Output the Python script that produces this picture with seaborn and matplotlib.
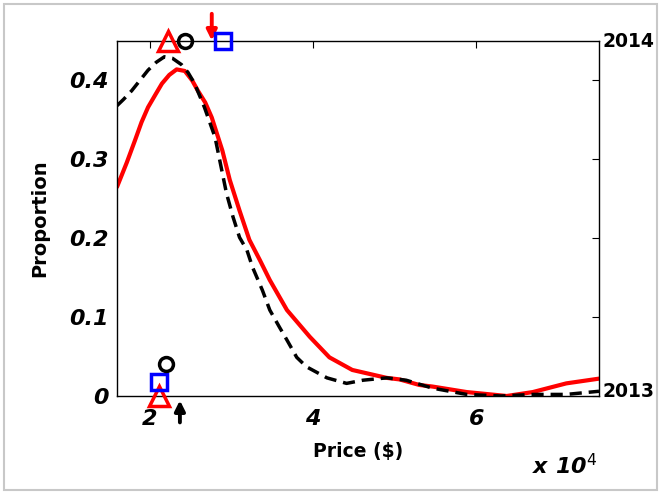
import matplotlib
matplotlib.use("Agg")
import matplotlib.pyplot as plt
import matplotlib.patches as mpatches
import numpy as np
import pandas as pd
import seaborn as sns

sns.set_style("white")
plt.rcParams["font.family"] = ["DejaVu Sans"]
plt.rcParams["text.color"] = "black"
plt.rcParams["axes.labelcolor"] = "black"
plt.rcParams["xtick.color"] = "black"
plt.rcParams["ytick.color"] = "black"

# Price grid (in units of 10^4 $) and proportions for each year
price_2014 = [1.6, 1.72, 1.82, 1.90, 1.98, 2.07, 2.15, 2.24, 2.33, 2.43, 2.52,
              2.59, 2.68, 2.76, 2.89, 2.98, 3.10, 3.22, 3.35, 3.47, 3.68, 3.96,
              4.20, 4.48, 4.90, 5.06, 5.30, 5.46, 5.88, 6.37, 6.69, 7.10, 7.50]
prop_2014 = [0.265, 0.296, 0.324, 0.347, 0.366, 0.382, 0.396, 0.407, 0.414,
             0.412, 0.400, 0.387, 0.372, 0.353, 0.311, 0.274, 0.235, 0.198,
             0.172, 0.147, 0.109, 0.075, 0.049, 0.033, 0.023, 0.021, 0.014,
             0.012, 0.005, 0.0, 0.005, 0.016, 0.022]

price_2013 = [1.6, 1.68, 1.78, 1.88, 1.98, 2.08, 2.18, 2.28, 2.39, 2.47, 2.55,
              2.67, 2.80, 2.94, 3.02, 3.10, 3.19, 3.26, 3.38, 3.47, 3.59, 3.68,
              3.80, 3.92, 4.17, 4.41, 4.61, 4.90, 5.14, 5.46, 5.88, 6.30, 6.69,
              7.10, 7.50]
prop_2013 = [0.368, 0.376, 0.387, 0.400, 0.413, 0.423, 0.430, 0.428, 0.420,
             0.410, 0.396, 0.366, 0.328, 0.257, 0.227, 0.201, 0.185, 0.163,
             0.134, 0.109, 0.087, 0.071, 0.049, 0.037, 0.023, 0.016, 0.020,
             0.023, 0.020, 0.010, 0.002, 0.0, 0.002, 0.002, 0.006]

# Summary markers (x positions in 10^4 $, y heights)
top_marks_x = {"triangle": 2.22, "circle": 2.43, "square": 2.90}
top_arrow_x = 2.76
bot_marks = {"triangle": (2.12, 0.0), "square": (2.12, 0.018), "circle": (2.20, 0.040)}
bot_arrow_x = 2.37

x_ticks = [2, 4, 6]
y_ticks = [0, 0.1, 0.2, 0.3, 0.4]
y_tick_labels = ["0", "0.1", "0.2", "0.3", "0.4"]

df = pd.concat([
    pd.DataFrame({"price": price_2014, "prop": prop_2014, "year": "2014"}),
    pd.DataFrame({"price": price_2013, "prop": prop_2013, "year": "2013"}),
])

fig = plt.figure(figsize=(6.61, 4.94), dpi=100)
ax = fig.add_axes([117 / 661, 98 / 494, 482 / 661, 355 / 494])

sns.lineplot(data=df[df.year == "2014"], x="price", y="prop", ax=ax,
             color="#ff0000", lw=3, estimator=None)
sns.lineplot(data=df[df.year == "2013"], x="price", y="prop", ax=ax,
             color="black", lw=2.5, ls=(0, (3.5, 2)), estimator=None)

ax.set_xlim(1.6, 7.5)
ax.set_ylim(0, 0.45)
ax.set_xticks(x_ticks)
ax.set_xticklabels([str(t) for t in x_ticks], fontsize=16, fontweight="bold",
                   style="italic")
ax.set_yticks(y_ticks)
ax.set_yticklabels(y_tick_labels, fontsize=16, fontweight="bold", style="italic")
ax.tick_params(axis="x", pad=9)
ax.tick_params(axis="y", pad=6)
ax.tick_params(direction="in", length=5, width=0.8, top=True, right=True,
               labeltop=False, labelright=False)
for s in ax.spines.values():
    s.set_linewidth(1.0)
    s.set_color("black")
ax.set_xlabel("Price ($)", fontsize=13.5, fontweight="bold", labelpad=10)
ax.set_ylabel("Proportion", fontsize=14, fontweight="bold", labelpad=14)

# Markers along the top edge (2014)
ax.plot(top_marks_x["triangle"], 0.45, marker="^", ms=14, mfc="none", mec="red",
        mew=2.5, clip_on=False, zorder=5)
ax.plot(top_marks_x["circle"], 0.45, marker="o", ms=10, mfc="none", mec="black",
        mew=2.5, clip_on=False, zorder=5)
ax.plot(top_marks_x["square"], 0.45, marker="s", ms=12, mfc="none", mec="blue",
        mew=2.5, clip_on=False, zorder=5)
ax.annotate("", xy=(top_arrow_x, 0.447), xytext=(top_arrow_x, 0.488),
            arrowprops=dict(arrowstyle="-|>", color="red", lw=2.8,
                            mutation_scale=15), annotation_clip=False)

# Markers along the bottom edge (2013)
ax.plot(*bot_marks["triangle"], marker="^", ms=14, mfc="none", mec="red",
        mew=2.5, clip_on=False, zorder=5)
ax.plot(*bot_marks["square"], marker="s", ms=12, mfc="none", mec="blue",
        mew=2.5, clip_on=False, zorder=5)
ax.plot(*bot_marks["circle"], marker="o", ms=10, mfc="none", mec="black",
        mew=2.5, clip_on=False, zorder=5)
ax.annotate("", xy=(bot_arrow_x, -0.002), xytext=(bot_arrow_x, -0.037),
            arrowprops=dict(arrowstyle="-|>", color="black", lw=2.8,
                            mutation_scale=15), annotation_clip=False)

# Year labels at the right edge
ax.text(1.008, 1.0, "2014", transform=ax.transAxes, fontsize=13.5,
        fontweight="bold", ha="left", va="center")
ax.text(1.008, 0.012, "2013", transform=ax.transAxes, fontsize=13.5,
        fontweight="bold", ha="left", va="center")

# Exponent for the price axis
fig.text(597 / 661, 1 - 466 / 494, r"x 10$^{4}$", fontsize=16,
         fontweight="bold", style="italic", ha="right", va="center")

# Gray frame around the figure
fig.patches.append(mpatches.Rectangle((4 / 661, 4 / 494), 653 / 661, 486 / 494,
                                      transform=fig.transFigure, fill=False,
                                      edgecolor="#c8c8c8", lw=1.5))

fig.savefig("out.png", dpi=100)
